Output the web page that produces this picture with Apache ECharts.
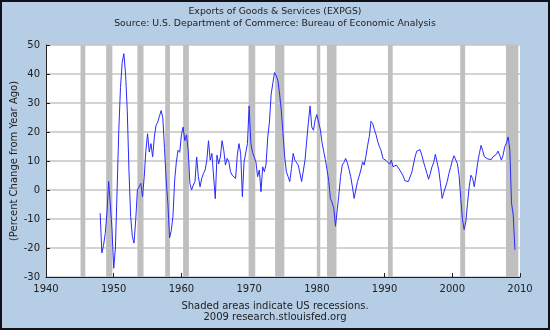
<!DOCTYPE html>
<html>
<head>
<meta charset="utf-8">
<script src="https://cdn.jsdelivr.net/npm/echarts@6/dist/echarts.min.js"></script>
<style>
html,body{margin:0;padding:0;background:#b5cde5;}
#c{width:550px;height:330px;}
</style>
</head>
<body>
<div id="c"></div>
<script>
// Quarterly percent change from year ago, starting 1948 Q1
const firstYear = 1948;
const exportsPctChange = [
 -8, -21.7, -19, -15, -8, 3, -5, -13.7, -27, -20,
 0, 20.6, 35.4, 44, 47, 40, 27.4, 6.9, -9.1, -16,
 -18.3, -10.3, 0, 1.1, 2.3, -2.3, 4.3, 13.7, 19.4, 13.1,
 16, 11.4, 18.3, 22.3, 23.4, 25.4, 27.4, 25, 14.3, 3.4,
 -4.6, -16.5, -14, -9, 3.4, 9.7, 13.7, 13, 19, 21.7,
 17, 19, 13.7, 2.3, 0, 1.7, 2.9, 11.4, 4.6, 1.1,
 4, 5.7, 6.9, 10.3, 17, 10.3, 12.6, 12, -3, 12,
 9, 11.4, 17, 13.7, 8.6, 10.9, 9.7, 6.3, 5.1, 4.6,
 4, 12, 16, 12.6, -2.3, 9.7, 9.1, 16, 29, 16,
 13, 11.4, 9.7, 4.6, 6.9, -0.6, 8, 6.3, 8.9, 18.3,
 23.4, 33, 36.8, 40.5, 39.4, 37.7, 33, 27.4, 19.4, 11.4,
 6.3, 4.6, 2.9, 7.4, 12.6, 10.3, 9.7, 8.6, 8, 2.9,
 2.3, 10.3, 17, 23.4, 29, 21.7, 20.6, 24.2, 26, 26.3,
 21, 16.6, 13.4, 10.5, 7.1, 3.2, -2.9, -4.3, -6.3, -12.5,
 -7, -1.7, 4.6, 8.6, 9.5, 10.9, 9.4, 7.1, 4.6, 1.1,
 -2.9, 0, 2.9, 4.8, 6.9, 9.7, 8.6, 11.7, 15.4, 18.5,
 23.7, 22.9, 20.8, 19, 16.6, 14.9, 13.5, 10.9, 11.4, 10.1,
 9.7, 8.9, 10.3, 8, 8.6, 8.6, 8.9, 6.9, 6.6, 4.8,
 3.2, 3.2, 2.9, 2.9, 5.9, 8.6, 11.4, 13.4, 14, 13.9,
 12, 9.7, 7.8, 5.7, 3.7, 5.7, 8, 9.4, 12.3, 12,
 6.9, 2.3, -2.9, -0.9, -0.6, 2.9, 5.7, 7.8, 10.1, 11.8,
 12, 9.1, 5.1, -2.9, -10, -13.7, -10.9, -4.6, 1.1, 5.1,
 4, 1.1, 5.1, 9.4, 12.6, 15.4, 13.5, 11.4, 10.9, 10.7,
 10.3, 10.5, 11.4, 12, 12.3, 13.4, 12, 10.3, 12, 14.9,
 16.2, 18.3, 13.7, -4.6, -8.6, -20.6
];
// Recession periods (decimal years)
const recessionStarts = [1945.1, 1948.88, 1953.5, 1957.6, 1960.25, 1969.92, 1973.83, 1980.0, 1981.5, 1990.5, 2001.17, 2007.92];
const recessionEnds   = [1945.8, 1949.8, 1954.4, 1958.3, 1961.1, 1970.9, 1975.2, 1980.5, 1982.9, 1991.2, 2001.9, 2009.75];
const yTicks = [-30, -20, -10, 0, 10, 20, 30, 40, 50];
const xTicks = [1940, 1950, 1960, 1970, 1980, 1990, 2000, 2010];

const seriesData = exportsPctChange.map((v, i) => [firstYear + i / 4, v]);
const areas = recessionStarts.map((s, i) => [{xAxis: s}, {xAxis: recessionEnds[i]}]);

const FONT = 'DejaVu Sans';
const chart = echarts.init(document.getElementById('c'), null, {renderer: 'canvas'});
chart.setOption({
  backgroundColor: '#b5cde5',
  animation: false,
  textStyle: {fontFamily: FONT},
  title: [{
    text: 'Exports of Goods & Services (EXPGS)',
    subtext: 'Source: U.S. Department of Commerce: Bureau of Economic Analysis',
    left: 'center', top: 2, itemGap: 3,
    textStyle: {fontFamily: FONT, fontSize: 9.3, fontWeight: 'normal', color: '#222'},
    subtextStyle: {fontFamily: FONT, fontSize: 9.3, color: '#222'}
  }, {
    text: 'Shaded areas indicate US recessions.',
    subtext: '2009 research.stlouisfed.org',
    left: 'center', top: 296, itemGap: 1,
    textStyle: {fontFamily: FONT, fontSize: 10, fontWeight: 'normal', color: '#222'},
    subtextStyle: {fontFamily: FONT, fontSize: 10, color: '#222'}
  }],
  graphic: [{
    type: 'rect', silent: true, z: 100,
    shape: {x: 1, y: 1, width: 548, height: 328},
    style: {fill: null, stroke: '#101018', lineWidth: 2}
  }],
  grid: {left: 46, right: 30, top: 45, bottom: 53, show: true, backgroundColor: '#ffffff', borderWidth: 0,
    outerBoundsMode: 'none', containLabel: false},
  xAxis: {
    type: 'value', min: 1940, max: 2010, interval: 10,
    axisLine: {show: true, onZero: false, lineStyle: {color: '#222', width: 1}},
    axisTick: {show: true, inside: true, length: 4, lineStyle: {color: '#222'}},
    splitLine: {show: false},
    axisLabel: {fontFamily: FONT, fontSize: 10, color: '#222', margin: 7,
      formatter: v => xTicks.includes(v) ? String(v) : ''}
  },
  yAxis: {
    type: 'value', min: -30, max: 50, interval: 10,
    name: '(Percent Change from Year Ago)',
    nameLocation: 'middle', nameGap: 27, nameRotate: 90, nameMoveOverlap: false,
    nameTextStyle: {fontFamily: FONT, fontSize: 10, color: '#222'},
    axisLine: {show: true, onZero: false, lineStyle: {color: '#222', width: 1}},
    axisTick: {show: true, inside: true, length: 4, lineStyle: {color: '#222'}},
    splitLine: {show: true, lineStyle: {color: '#c4c4c4', width: 1.5}},
    axisLabel: {fontFamily: FONT, fontSize: 10, color: '#222', margin: 6,
      formatter: v => yTicks.includes(v) ? String(v) : ''}
  },
  series: [{
    type: 'line',
    data: seriesData,
    showSymbol: false,
    lineStyle: {color: '#2a2aff', width: 1},
    markArea: {
      silent: true,
      itemStyle: {color: '#bfbfbf', opacity: 1},
      data: areas
    }
  }]
});
</script>
</body>
</html>
